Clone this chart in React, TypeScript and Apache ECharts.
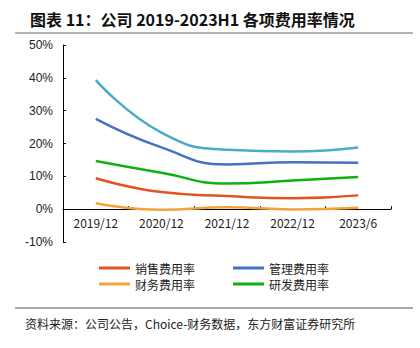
import React, { useEffect, useRef } from "react";
import * as echarts from "echarts";

const categories = ["2019/12", "2020/12", "2021/12", "2022/12", "2023/6"];
const salesRate = [9.4, 5.2, 4.0, 3.3, 4.2];
const mgmtRate = [27.5, 18.8, 13.6, 14.3, 14.1];
const finRate = [1.8, -0.2, 0.6, -0.1, 0.4];
const rdRate = [14.7, 11.1, 7.8, 8.7, 9.8];
const totalRate = [39.3, 23.3, 18.1, 17.6, 18.8];

const titleText = "图表 11：公司 2019-2023H1 各项费用率情况";
const sourceText = "资料来源：公司公告，Choice-财务数据，东方财富证券研究所";

export default function App() {
  const ref = useRef<HTMLDivElement>(null);
  useEffect(() => {
    if (!ref.current) return;
    const chart = echarts.init(ref.current, null, { renderer: "svg" });
    const cjk = '"Noto Sans CJK SC", sans-serif';
    const line = (name: string, data: number[], color: string) => ({
      name,
      type: "line",
      data,
      smooth: true,
      symbol: "none",
      lineStyle: { color, width: 2.5 },
      itemStyle: { color },
    });
    const legendBase = {
      orient: "vertical",
      top: 262,
      itemWidth: 31,
      itemHeight: 3,
      itemGap: 4,
      icon: "rect",
      padding: 0,
      textStyle: { fontFamily: cjk, fontSize: 12, color: "#222", lineHeight: 12 },
    };
    chart.setOption({
      animation: false,
      backgroundColor: "#fff",
      title: {
        text: titleText,
        left: 25,
        top: 6,
        textStyle: { fontFamily: cjk, fontSize: 16, fontWeight: "bold", color: "#111" },
      },
      graphic: [
        { type: "line", shape: { x1: 15, y1: 33, x2: 413, y2: 33 }, style: { stroke: "#9a9a9a", lineWidth: 1.5 } },
        { type: "line", shape: { x1: 15, y1: 308, x2: 413, y2: 308 }, style: { stroke: "#555", lineWidth: 1 } },
        {
          type: "text",
          left: 25,
          top: 317,
          style: { text: sourceText, fontFamily: cjk, fontSize: 12, fill: "#222" },
        },
      ],
      legend: [
        { ...legendBase, data: ["销售费用率", "财务费用率"], left: 99 },
        { ...legendBase, data: ["管理费用率", "研发费用率"], left: 233 },
      ],
      grid: { left: 63, right: 29, top: 45, bottom: 106, containLabel: false },
      xAxis: {
        type: "category",
        data: categories,
        boundaryGap: true,
        axisLine: { onZero: true, lineStyle: { color: "#000", width: 1 } },
        axisTick: { show: true, inside: true, length: 3, lineStyle: { color: "#000" } },
        axisLabel: { fontFamily: cjk, fontSize: 12, color: "#222", margin: -26 },
        splitLine: { show: false },
      },
      yAxis: {
        type: "value",
        min: -10,
        max: 50,
        interval: 10,
        axisLine: { show: true, lineStyle: { color: "#000", width: 1 } },
        axisTick: { show: true, inside: true, length: 3, lineStyle: { color: "#000" } },
        axisLabel: {
          formatter: "{value}%",
          fontFamily: '"Liberation Sans", Arial, sans-serif',
          fontSize: 12,
          color: "#222",
          margin: 10,
        },
        splitLine: { show: false },
      },
      series: [
        line("合计费用率", totalRate, "#4BACC6"),
        line("管理费用率", mgmtRate, "#4472C4"),
        line("研发费用率", rdRate, "#10B010"),
        line("销售费用率", salesRate, "#E2531F"),
        line("财务费用率", finRate, "#F4A23A"),
      ],
    });
    return () => chart.dispose();
  }, []);
  return (
    <div
      ref={ref}
      style={{ position: "fixed", left: 0, top: 0, width: 420, height: 348 }}
    />
  );
}
